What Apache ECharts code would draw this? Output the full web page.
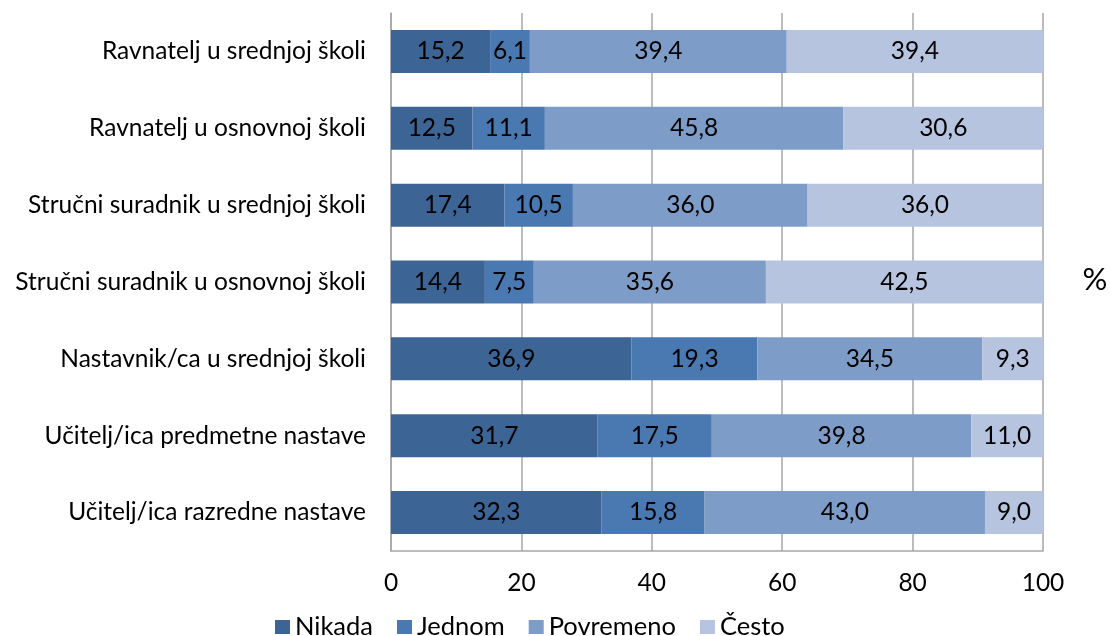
<!DOCTYPE html>
<html>
<head>
<meta charset="utf-8">
<script src="https://cdn.jsdelivr.net/npm/echarts@6/dist/echarts.min.js"></script>
<style>html,body{margin:0;padding:0;background:#fff;}#c{width:1110px;height:636px;}</style>
</head>
<body>
<div id="c"></div>
<script>
var categories = [
  'Učitelj/ica razredne nastave',
  'Učitelj/ica predmetne nastave',
  'Nastavnik/ca u srednjoj školi',
  'Stručni suradnik u osnovnoj školi',
  'Stručni suradnik u srednjoj školi',
  'Ravnatelj u osnovnoj školi',
  'Ravnatelj u srednjoj školi'
];
var seriesNames = ['Nikada', 'Jednom', 'Povremeno', 'Često'];
var nikada    = [32.3, 31.7, 36.9, 14.4, 17.4, 12.5, 15.2];
var jednom    = [15.8, 17.5, 19.3, 7.5, 10.5, 11.1, 6.1];
var povremeno = [43.0, 39.8, 34.5, 35.6, 36.0, 45.8, 39.4];
var cesto     = [9.0, 11.0, 9.3, 42.5, 36.0, 30.6, 39.4];
var xTicks = [0, 20, 40, 60, 80, 100];

var colors = ['#3c6494', '#4a78b0', '#7e9cc8', '#b6c4df'];
var font = 'Lato, "Open Sans", sans-serif';
var fs = 24.5;
var allData = [nikada, jednom, povremeno, cesto];

var chart = echarts.init(document.getElementById('c'), null, {renderer: 'canvas'});
chart.setOption({
  animation: false,
  color: colors,
  textStyle: {fontFamily: font},
  grid: {left: 391, right: 67, top: 13, bottom: 85, containLabel: false},
  xAxis: {
    type: 'value', min: 0, max: 100, interval: 20,
    axisLine: {show: true, lineStyle: {color: '#a6a6a6', width: 1.5}},
    axisTick: {show: false},
    splitLine: {show: true, lineStyle: {color: '#a6a6a6', width: 1.5}},
    axisLabel: {color: '#000', fontSize: fs, fontFamily: font, margin: 20,
      formatter: function (v) { return xTicks.indexOf(v) >= 0 ? String(v) : ''; }}
  },
  yAxis: {
    type: 'category', data: categories,
    axisLine: {show: true, lineStyle: {color: '#a6a6a6', width: 1.5}},
    axisTick: {show: false},
    axisLabel: {color: '#000', fontSize: fs, fontFamily: font, margin: 25}
  },
  legend: {
    data: seriesNames, top: 613, left: 275, padding: 0,
    icon: 'rect', itemWidth: 15, itemHeight: 14, itemGap: 24,
    textStyle: {color: '#000', fontSize: 25.5, fontFamily: font, lineHeight: 28}
  },
  graphic: [{
    type: 'text', x: 1095, y: 280,
    style: {text: '%', fontSize: 31, fontFamily: font, fill: '#000', align: 'center', verticalAlign: 'middle'}
  }],
  series: seriesNames.map(function (name, i) {
    return {
      name: name, type: 'bar', stack: 'total', barWidth: 43,
      data: allData[i],
      itemStyle: {color: colors[i]},
      label: {
        show: true, position: 'inside', color: '#000', fontSize: fs, fontFamily: font,
        formatter: function (p) { return p.value.toFixed(1).replace('.', ','); }
      }
    };
  })
});
</script>
</body>
</html>
